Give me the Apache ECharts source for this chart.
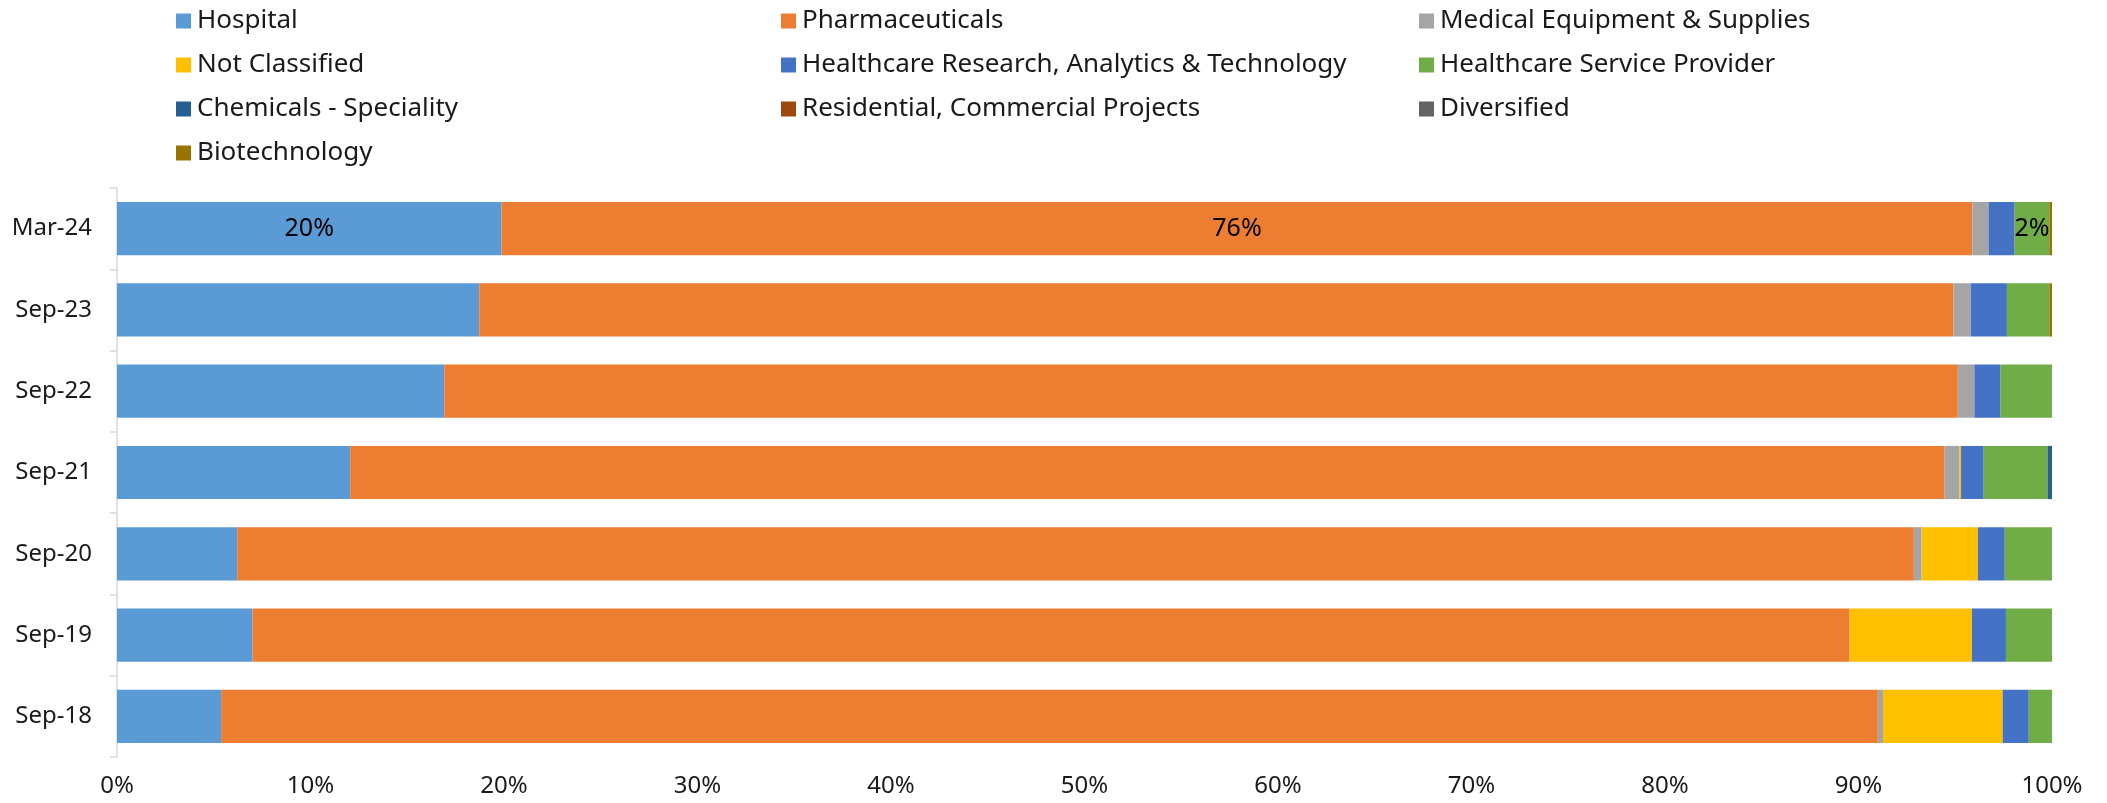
<!DOCTYPE html>
<html>
<head>
<meta charset="utf-8">
<script src="https://cdn.jsdelivr.net/npm/echarts/dist/echarts.min.js"></script>
<style>
html, body { margin: 0; padding: 0; background: #fff; }
#chart { width: 2107px; height: 803px; }
</style>
</head>
<body>
<div id="chart"></div>
<script>
// periods, top to bottom
const periods = ['Mar-24', 'Sep-23', 'Sep-22', 'Sep-21', 'Sep-20', 'Sep-19', 'Sep-18']

// share of each sector (%) per period
const hospital = [19.87, 18.72, 16.91, 12.05, 6.21, 7.0, 5.38]
const pharmaceuticals = [76.02, 76.19, 78.22, 82.4, 86.65, 82.54, 85.62]
const medicalEquipment = [0.83, 0.89, 0.86, 0.77, 0.4, 0, 0.27]
const notClassified = [0, 0, 0, 0.08, 2.91, 6.32, 6.18]
const healthcareResearch = [1.35, 1.87, 1.35, 1.17, 1.39, 1.76, 1.35]
const healthcareService = [1.79, 2.19, 2.66, 3.3, 2.44, 2.38, 1.2]
const chemicals = [0, 0, 0, 0.23, 0, 0, 0]
const residential = [0, 0, 0, 0, 0, 0, 0]
const diversified = [0, 0, 0, 0, 0, 0, 0]
const biotechnology = [0.14, 0.14, 0, 0, 0, 0, 0]

const xTicks = [0, 10, 20, 30, 40, 50, 60, 70, 80, 90, 100]

const sectors = [
  { name: 'Hospital', data: hospital, color: '#5B9BD5', label: true },
  { name: 'Pharmaceuticals', data: pharmaceuticals, color: '#ED7D31', label: true },
  { name: 'Medical Equipment & Supplies', data: medicalEquipment, color: '#A5A5A5' },
  { name: 'Not Classified', data: notClassified, color: '#FFC000' },
  { name: 'Healthcare Research, Analytics & Technology', data: healthcareResearch, color: '#4472C4' },
  { name: 'Healthcare Service Provider', data: healthcareService, color: '#70AD47', label: true },
  { name: 'Chemicals - Speciality', data: chemicals, color: '#255E91' },
  { name: 'Residential, Commercial Projects', data: residential, color: '#9E480E' },
  { name: 'Diversified', data: diversified, color: '#636363' },
  { name: 'Biotechnology', data: biotechnology, color: '#997300' },
]

const font = '"Noto Sans", "Open Sans", sans-serif'
const textColor = '#1a1a1a'

// legend laid out in three columns like the original
const legendBase = {
  orient: 'vertical',
  top: 3,
  icon: 'rect',
  itemWidth: 15,
  itemHeight: 15,
  itemGap: 18,
  textStyle: { fontFamily: font, fontSize: 26, lineHeight: 26, color: textColor, padding: [0, 0, 0, 1] },
}

const chart = echarts.init(document.getElementById('chart'))

chart.setOption({
  animation: false,
  legend: [
    { ...legendBase, left: 171, data: ['Hospital', 'Not Classified', 'Chemicals - Speciality', 'Biotechnology'] },
    { ...legendBase, left: 776, data: ['Pharmaceuticals', 'Healthcare Research, Analytics & Technology', 'Residential, Commercial Projects'] },
    { ...legendBase, left: 1414, data: ['Medical Equipment & Supplies', 'Healthcare Service Provider', 'Diversified'] },
  ],
  grid: {
    left: 117,
    right: 55,
    top: 188,
    bottom: 46,
  },
  xAxis: {
    type: 'value',
    min: xTicks[0],
    max: xTicks[xTicks.length - 1],
    interval: 10,
    axisLine: { show: false },
    axisTick: { show: false },
    splitLine: { show: false },
    axisLabel: {
      margin: 17,
      fontFamily: font,
      fontSize: 24,
      color: textColor,
      formatter: '{value}%',
    },
  },
  yAxis: {
    type: 'category',
    data: periods,
    inverse: true,
    axisLine: { show: true, lineStyle: { color: '#D9D9D9', width: 1.5 } },
    axisTick: { show: true, length: 7, lineStyle: { color: '#D9D9D9', width: 1.5 } },
    axisLabel: {
      margin: 25,
      fontFamily: font,
      fontSize: 24,
      color: textColor,
    },
  },
  series: sectors.map((s) => ({
    name: s.name,
    type: 'bar',
    stack: 'total',
    barCategoryGap: '34.5%',
    itemStyle: { color: s.color },
    label: {
      show: false,
      position: 'inside',
      fontFamily: font,
      fontSize: 25,
      color: '#000',
      formatter: (p) => Math.round(p.value) + '%',
    },
    // only the latest period carries data labels
    data: s.data.map((v, i) => (s.label && i === 0 ? { value: v, label: { show: true } } : v)),
  })),
})
</script>
</body>
</html>
